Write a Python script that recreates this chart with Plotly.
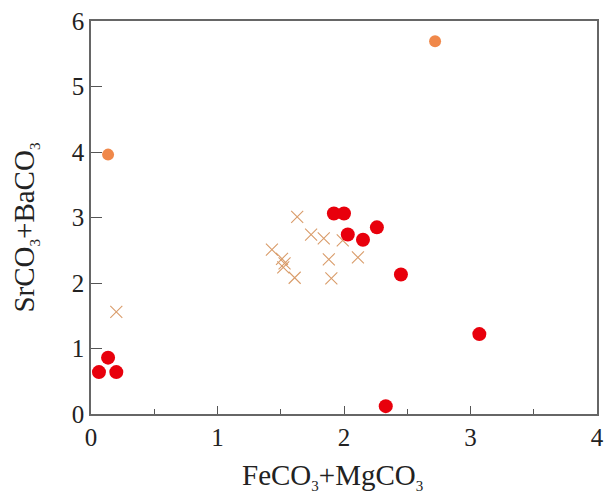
import plotly.graph_objects as go

# Orange circles
orange_x = [0.135, 2.72]
orange_y = [3.96, 5.69]

# Red circles
red_x = [0.063, 0.135, 0.20, 1.92, 2.00, 2.03, 2.15, 2.26, 2.45, 3.07, 2.33]
red_y = [0.64, 0.86, 0.64, 3.06, 3.06, 2.74, 2.66, 2.85, 2.13, 1.22, 0.12]

# Crosses
cross_x = [0.20, 1.63, 1.74, 1.84, 1.99, 1.43, 1.51, 1.53, 1.52, 1.61, 1.88, 1.90, 2.11]
cross_y = [1.56, 3.01, 2.74, 2.68, 2.65, 2.51, 2.37, 2.30, 2.24, 2.08, 2.36, 2.07, 2.39]

x_ticks = [0, 1, 2, 3, 4]
y_ticks = [0, 1, 2, 3, 4, 5, 6]

fig = go.Figure()
fig.add_trace(go.Scatter(
    x=cross_x, y=cross_y, mode="markers",
    marker=dict(symbol="x-thin", size=12, line=dict(color="#d99c6a", width=1.1)),
    showlegend=False))
fig.add_trace(go.Scatter(
    x=orange_x, y=orange_y, mode="markers",
    marker=dict(symbol="circle", size=12, color="#f0884a"),
    showlegend=False))
fig.add_trace(go.Scatter(
    x=red_x, y=red_y, mode="markers",
    marker=dict(symbol="circle", size=14, color="#e8000c"),
    showlegend=False))

fam = "Liberation Serif, Times New Roman, serif"
tick_font = dict(family=fam, size=25, color="#222222")
title_font = dict(family=fam, size=29, color="#222222")
sub3 = '<sub><span style="font-size:15px">3</span></sub>'

fig.update_layout(
    width=605, height=497,
    margin=dict(l=91, r=8, t=21, b=83),
    paper_bgcolor="white", plot_bgcolor="white",
    font=tick_font,
    annotations=[
        dict(text="SrCO" + sub3 + "+BaCO" + sub3, textangle=-90,
             xref="paper", yref="paper", x=-0.13, y=0.475,
             xanchor="center", yanchor="middle", showarrow=False, font=title_font),
        dict(text="FeCO" + sub3 + "+MgCO" + sub3,
             xref="paper", yref="paper", x=0.478, y=-0.158,
             xanchor="center", yanchor="middle", showarrow=False, font=title_font),
    ],
)
fig.update_xaxes(
    range=[0, 4], tickvals=x_ticks, ticktext=[str(v) for v in x_ticks],
    ticks="inside", ticklen=8, tickwidth=1.2, tickcolor="#555555",
    minor=dict(tickvals=[0.5, 1.5, 2.5, 3.5], ticks="inside", ticklen=5, tickwidth=1.2, tickcolor="#555555"),
    showline=True, linecolor="#666666", linewidth=1.5, mirror=True,
    showgrid=False, zeroline=False, automargin=False,
    tickfont=tick_font, ticklabeloverflow="allow",
)
fig.update_yaxes(
    range=[0, 6], tickvals=y_ticks, ticktext=[str(v) for v in y_ticks],
    ticks="inside", ticklen=11, tickwidth=1.2, tickcolor="#555555",
    showline=True, linecolor="#666666", linewidth=1.5, mirror=True,
    showgrid=False, zeroline=False, automargin=False,
    tickfont=tick_font, ticklabeloverflow="allow",
)

fig.write_html(
    "out.html",
    config={"displayModeBar": False},
    post_script="document.body.style.margin='0';document.body.style.overflow='hidden';",
)
